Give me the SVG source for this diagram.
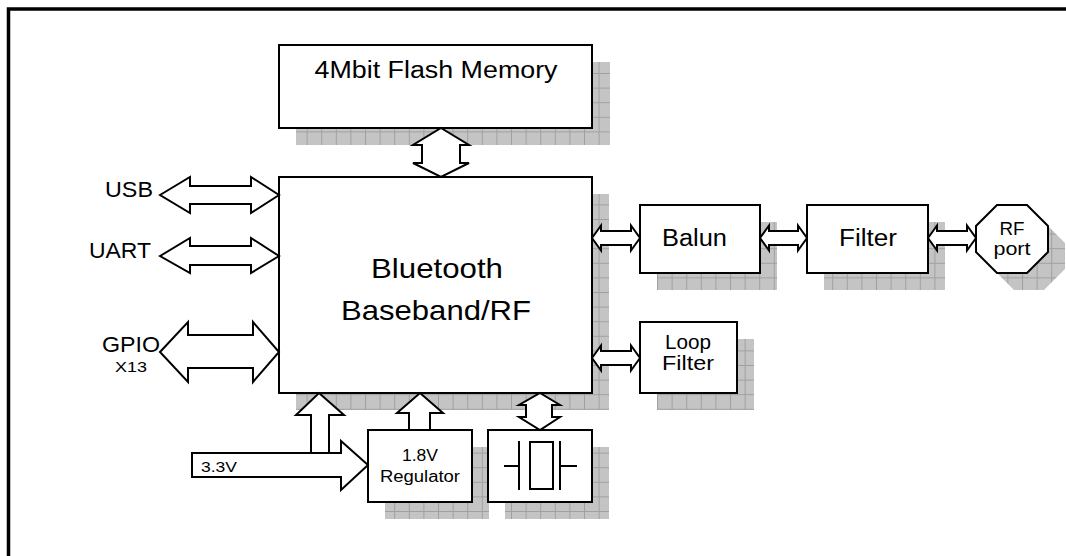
<svg xmlns="http://www.w3.org/2000/svg" width="1066" height="556" viewBox="0 0 1066 556">
<style>
.box{fill:#fff;stroke:#000;stroke-width:2}
.shadow{fill:url(#grid)}
.arrow{fill:#fff;stroke:#000;stroke-width:2;stroke-linejoin:miter}
.line{fill:none;stroke:#000;stroke-width:2}
text{font-family:"Liberation Sans",Arial,sans-serif;fill:#000}
.c{text-anchor:middle}
</style>
<defs>
<pattern id="grid" patternUnits="userSpaceOnUse" width="14.6" height="14.6" x="0" y="0">
<rect width="14.6" height="14.6" fill="#c4c4c4"/>
<path d="M0 0.5H14.6M0.5 0V14.6" stroke="#a0a0a0" stroke-width="1"/>
</pattern>
</defs>
<rect width="1066" height="556" fill="#fff"/>
<path d="M8.5 560V9H1070" fill="none" stroke="#000" stroke-width="3.5"/>

<g id="flash">
<rect class="shadow" x="296" y="62" width="314" height="83"/>
<rect class="box" x="279" y="45" width="313" height="83"/>
<text x="436" y="78" font-size="23" class="c" textLength="243" lengthAdjust="spacingAndGlyphs">4Mbit Flash Memory</text>
</g>

<g id="baseband">
<rect class="shadow" x="296" y="194" width="313" height="216"/>
<rect class="box" x="279" y="177" width="313" height="216"/>
<text x="437" y="278" font-size="28" class="c" textLength="132" lengthAdjust="spacingAndGlyphs">Bluetooth</text>
<text x="436" y="320" font-size="28" class="c" textLength="190" lengthAdjust="spacingAndGlyphs">Baseband/RF</text>
</g>

<g id="usb-label"><text x="153" y="197" font-size="22" text-anchor="end" textLength="48" lengthAdjust="spacingAndGlyphs">USB</text></g>
<g id="uart-label"><text x="151" y="258" font-size="22" text-anchor="end" textLength="62" lengthAdjust="spacingAndGlyphs">UART</text></g>
<g id="gpio-label">
<text x="102" y="352" font-size="22" textLength="58" lengthAdjust="spacingAndGlyphs">GPIO</text>
<text x="115" y="372" font-size="15" textLength="32" lengthAdjust="spacingAndGlyphs">X13</text>
</g>

<g id="regulator">
<rect class="shadow" x="385" y="447" width="104" height="72"/>
<rect class="box" x="368" y="430" width="104" height="72"/>
<text x="420" y="461" font-size="16" class="c" textLength="36" lengthAdjust="spacingAndGlyphs">1.8V</text>
<text x="420" y="482" font-size="16" class="c" textLength="80" lengthAdjust="spacingAndGlyphs">Regulator</text>
</g>

<g id="crystal">
<rect class="shadow" x="505" y="447" width="104" height="72"/>
<rect class="box" x="488" y="430" width="104" height="72"/>
<path class="line" d="M504 466H519M519 441V490M560 441V490M560 466H577"/>
<rect class="box" x="530" y="442" width="23" height="47"/>
</g>

<g id="balun">
<rect class="shadow" x="657" y="222" width="120" height="68"/>
<rect class="box" x="640" y="205" width="120" height="68"/>
<text x="694.5" y="246" font-size="23" class="c" textLength="65" lengthAdjust="spacingAndGlyphs">Balun</text>
</g>

<g id="filter">
<rect class="shadow" x="824" y="222" width="121" height="68"/>
<rect class="box" x="807" y="205" width="121" height="68"/>
<text x="868" y="246" font-size="23" class="c" textLength="58" lengthAdjust="spacingAndGlyphs">Filter</text>
</g>

<g id="rfport">
<polygon class="shadow" points="1014,222 1044,222 1065,243 1065,269 1044,290 1014,290 993,269 993,243"/>
<polygon class="box" points="997,205 1027,205 1048,226 1048,252 1027,273 997,273 976,252 976,226"/>
<text x="1012" y="235" font-size="18" class="c" textLength="25" lengthAdjust="spacingAndGlyphs">RF</text>
<text x="1012" y="255" font-size="18" class="c" textLength="37" lengthAdjust="spacingAndGlyphs">port</text>
</g>

<g id="loopfilter">
<rect class="shadow" x="657" y="339" width="97" height="71"/>
<rect class="box" x="640" y="322" width="97" height="71"/>
<text x="688" y="349" font-size="20" class="c" textLength="46" lengthAdjust="spacingAndGlyphs">Loop</text>
<text x="688" y="370" font-size="20" class="c" textLength="52" lengthAdjust="spacingAndGlyphs">Filter</text>
</g>

<g id="connectors">
<polygon class="arrow" points="441,128 469,145 460,145 460,163 469,163 441,177 413,163 422,163 422,145 413,145"/>
<polygon class="arrow" points="160,195 190,177 190,186 251,186 251,177 279,195 251,213 251,204 190,204 190,213"/>
<polygon class="arrow" points="160,256 190,238 190,246 251,246 251,238 279,256 251,273 251,265 190,265 190,273"/>
<polygon class="arrow" points="160,352 188,322 188,335 253,335 253,322 279,352 253,382 253,368 188,368 188,382"/>
<polygon class="arrow" points="319,393 344,415 329,415 329,453 311,453 311,415 296,415"/>
<polygon class="arrow" points="192,453 341,453 341,441 368,465 341,490 341,477 192,477"/>
<text x="201" y="472" font-size="15" textLength="36" lengthAdjust="spacingAndGlyphs">3.3V</text>
<polygon class="arrow" points="420,393 443,413 430,413 430,430 409,430 409,413 397,413"/>
<polygon class="arrow" points="540,393 560,405 552,405 552,417 560,417 540,430 519,417 526,417 526,405 519,405"/>
<polygon class="arrow" points="592,238 601,225.5 601,231 631,231 631,225.5 640,238 631,250.5 631,245 601,245 601,250.5"/>
<polygon class="arrow" points="760,238 769,225.5 769,231 798,231 798,225.5 807,238 798,250.5 798,245 769,245 769,250.5"/>
<polygon class="arrow" points="928,238 937,225.5 937,231 967,231 967,225.5 976,238 967,250.5 967,245 937,245 937,250.5"/>
<polygon class="arrow" points="592,358 601,345.5 601,351 631,351 631,345.5 640,358 631,370.5 631,365 601,365 601,370.5"/>
</g>
</svg>
